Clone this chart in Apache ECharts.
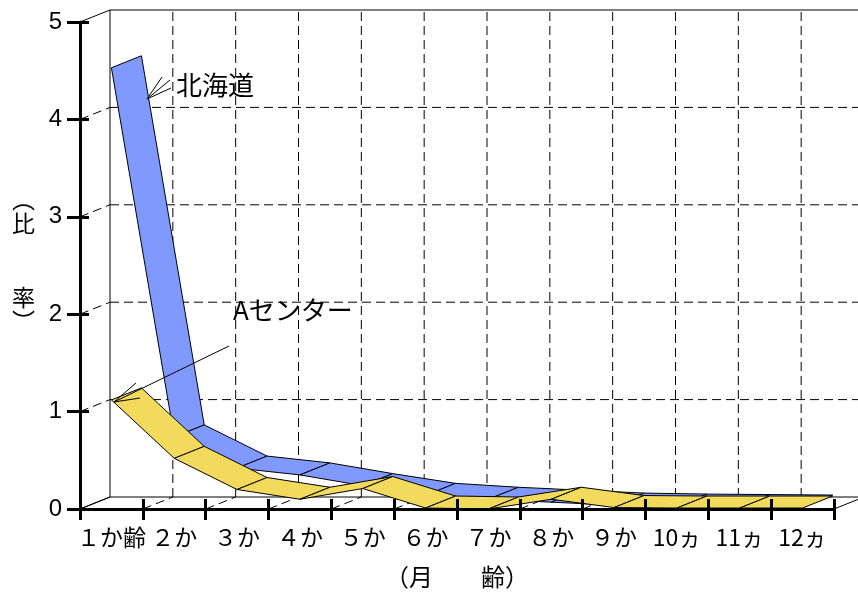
<!DOCTYPE html>
<html>
<head>
<meta charset="utf-8">
<script src="https://cdn.jsdelivr.net/npm/echarts@6/dist/echarts.min.js"></script>
<style>
  html, body { margin: 0; padding: 0; background: #fff; }
  #chart { width: 858px; height: 594px; }
</style>
</head>
<body>
<div id="chart"></div>
<script>
// Month-of-age categories
const months = ['１か齢', '２か', '３か', '４か', '５か', '６か', '７か', '８か', '９か', '10ヵ', '11ヵ', '12ヵ'];
// Ratio per month of age
const hokkaido = [4.53, 0.74, 0.42, 0.35, 0.24, 0.14, 0.10, 0.07, 0.04, 0.03, 0.025, 0.02];
const centerA  = [1.12, 0.52, 0.20, 0.10, 0.21, 0.01, 0.00, 0.10, 0.015, 0.01, 0.01, 0.01];
const yTicks = [0, 1, 2, 3, 4, 5];
const seriesNames = ['北海道', 'Aセンター'];

// Oblique offset from the front plane to the back wall (pixels)
const DEPTH = [30, -12];
const CJK = '"Noto Sans CJK JP", "Noto Sans", sans-serif';
const back = p => [p[0] + DEPTH[0], p[1] + DEPTH[1]];

const chart = echarts.init(document.getElementById('chart'), null, { renderer: 'canvas' });

// Turn a value list into ribbon segments [x0, y0, x1, y1] on the 0..12 value x axis
function segments(values) {
  const out = [];
  for (let i = 0; i < values.length - 1; i++) {
    out.push([i + 0.5, values[i], i + 1.5, values[i + 1]]);
  }
  return out;
}

function ribbon(name, values, color, z) {
  return {
    type: 'custom',
    name: name,
    xAxisIndex: 1,
    yAxisIndex: 0,
    z: z,
    clip: false,
    silent: true,
    encode: { x: [0, 2], y: [1, 3] },
    data: segments(values),
    renderItem: function (params, api) {
      const p0 = api.coord([api.value(0), api.value(1)]);
      const p1 = api.coord([api.value(2), api.value(3)]);
      return {
        type: 'polygon',
        shape: { points: [p0, p1, back(p1), back(p0)] },
        style: { fill: color, stroke: '#000', lineWidth: 1 }
      };
    }
  };
}

// Back wall, left wall and floor of the 3-D box
const walls = {
  type: 'custom',
  xAxisIndex: 1,
  yAxisIndex: 0,
  z: 1,
  clip: false,
  silent: true,
  data: [[0, 0]],
  renderItem: function (params, api) {
    const n = months.length;
    const yMin = yTicks[0], yMax = yTicks[yTicks.length - 1];
    const dash = { stroke: '#000', lineWidth: 1, lineDash: [9, 5] };
    const solid = { stroke: '#000', lineWidth: 1 };
    const kids = [];
    const line = (a, b, style) => kids.push({
      type: 'line', shape: { x1: a[0], y1: a[1], x2: b[0], y2: b[1] }, style: style
    });
    yTicks.forEach(v => {
      const f = api.coord([0, v]);
      const edge = (v === yMin || v === yMax);
      line(f, back(f), edge ? solid : dash);
      line(back(f), back(api.coord([n, v])), edge ? solid : dash);
    });
    for (let i = 0; i <= n; i++) {
      const f = api.coord([i, yMin]);
      const edge = (i === 0 || i === n);
      line(f, back(f), edge ? solid : dash);
      line(back(f), back(api.coord([i, yMax])), i === 0 ? solid : dash);
    }
    return { type: 'group', children: kids };
  }
};

const option = {
  backgroundColor: '#fff',
  animation: false,
  grid: { left: 80, right: 24, top: 22, bottom: 81, containLabel: false },
  xAxis: [
    {
      type: 'category',
      data: months,
      position: 'bottom',
      z: 10,
      axisLine: { show: true, lineStyle: { color: '#000', width: 3 } },
      axisTick: { show: true, interval: 0, length: 11, lineStyle: { color: '#000', width: 3 } },
      axisLabel: { interval: 0, margin: 17, fontSize: 23, color: '#000', fontFamily: CJK, hideOverlap: false },
      splitLine: { show: false },
      name: '（月　　齢）',
      nameLocation: 'middle',
      nameGap: 56,
      nameTextStyle: { fontSize: 24, color: '#000', fontFamily: CJK }
    },
    {
      type: 'value',
      min: 0, max: months.length, interval: 1,
      position: 'bottom',
      z: 10,
      axisLine: { show: false },
      axisTick: { show: true, inside: true, length: 10, lineStyle: { color: '#000', width: 3 } },
      axisLabel: { show: false },
      splitLine: { show: false }
    }
  ],
  yAxis: [
    {
      type: 'value',
      min: 0, max: 5, interval: 1,
      position: 'left',
      z: 10,
      axisLine: { show: true, lineStyle: { color: '#000', width: 3 } },
      axisTick: { show: true, length: 13, lineStyle: { color: '#000', width: 3 } },
      axisLabel: { margin: 18, fontSize: 24, color: '#000', fontFamily: '"Liberation Sans", Arial, sans-serif' },
      splitLine: { show: false },
      // vertical axis title, one glyph per line, with a short spacer line at the foot
      name: '{c|︵}\n{c|比}\n{c|　}\n{c|　}\n{c|率}\n{c|︶}\n{s|　}',
      nameLocation: 'middle',
      nameRotate: 0,
      nameGap: 45,
      nameTextStyle: {
        color: '#000', fontFamily: CJK,
        rich: {
          c: { fontSize: 23, lineHeight: 24.5, color: '#000', fontFamily: CJK },
          s: { fontSize: 10, lineHeight: 10 }
        }
      }
    },
    {
      type: 'value',
      min: 0, max: 5, interval: 1,
      position: 'left',
      z: 10,
      axisLine: { show: false },
      axisTick: { show: true, inside: true, length: 9, lineStyle: { color: '#000', width: 3 } },
      axisLabel: { show: false },
      splitLine: { show: false }
    }
  ],
  series: [
    walls,
    ribbon(seriesNames[0], hokkaido, '#8099ff', 3),
    ribbon(seriesNames[1], centerA, '#f2da5c', 4)
  ],
  graphic: [
    { type: 'text', z: 20, left: 176, top: 72,
      style: { text: seriesNames[0], fontSize: 26, fill: '#000', fontFamily: CJK } },
    { type: 'polyline', z: 20, shape: { points: [[162, 77], [147, 99], [170, 80]] }, style: { stroke: '#000', lineWidth: 1, fill: null } },
    { type: 'line', z: 20, shape: { x1: 147, y1: 99, x2: 171, y2: 88 }, style: { stroke: '#000', lineWidth: 1 } },
    { type: 'text', z: 20, left: 233, top: 297,
      style: { text: seriesNames[1], fontSize: 26, fill: '#000', fontFamily: CJK } },
    { type: 'line', z: 20, shape: { x1: 229, y1: 346, x2: 114, y2: 402 }, style: { stroke: '#000', lineWidth: 1 } },
    { type: 'polyline', z: 20, shape: { points: [[136, 383], [114, 402], [140, 398]] }, style: { stroke: '#000', lineWidth: 1, fill: null } }
  ]
};

chart.setOption(option);
</script>
</body>
</html>
